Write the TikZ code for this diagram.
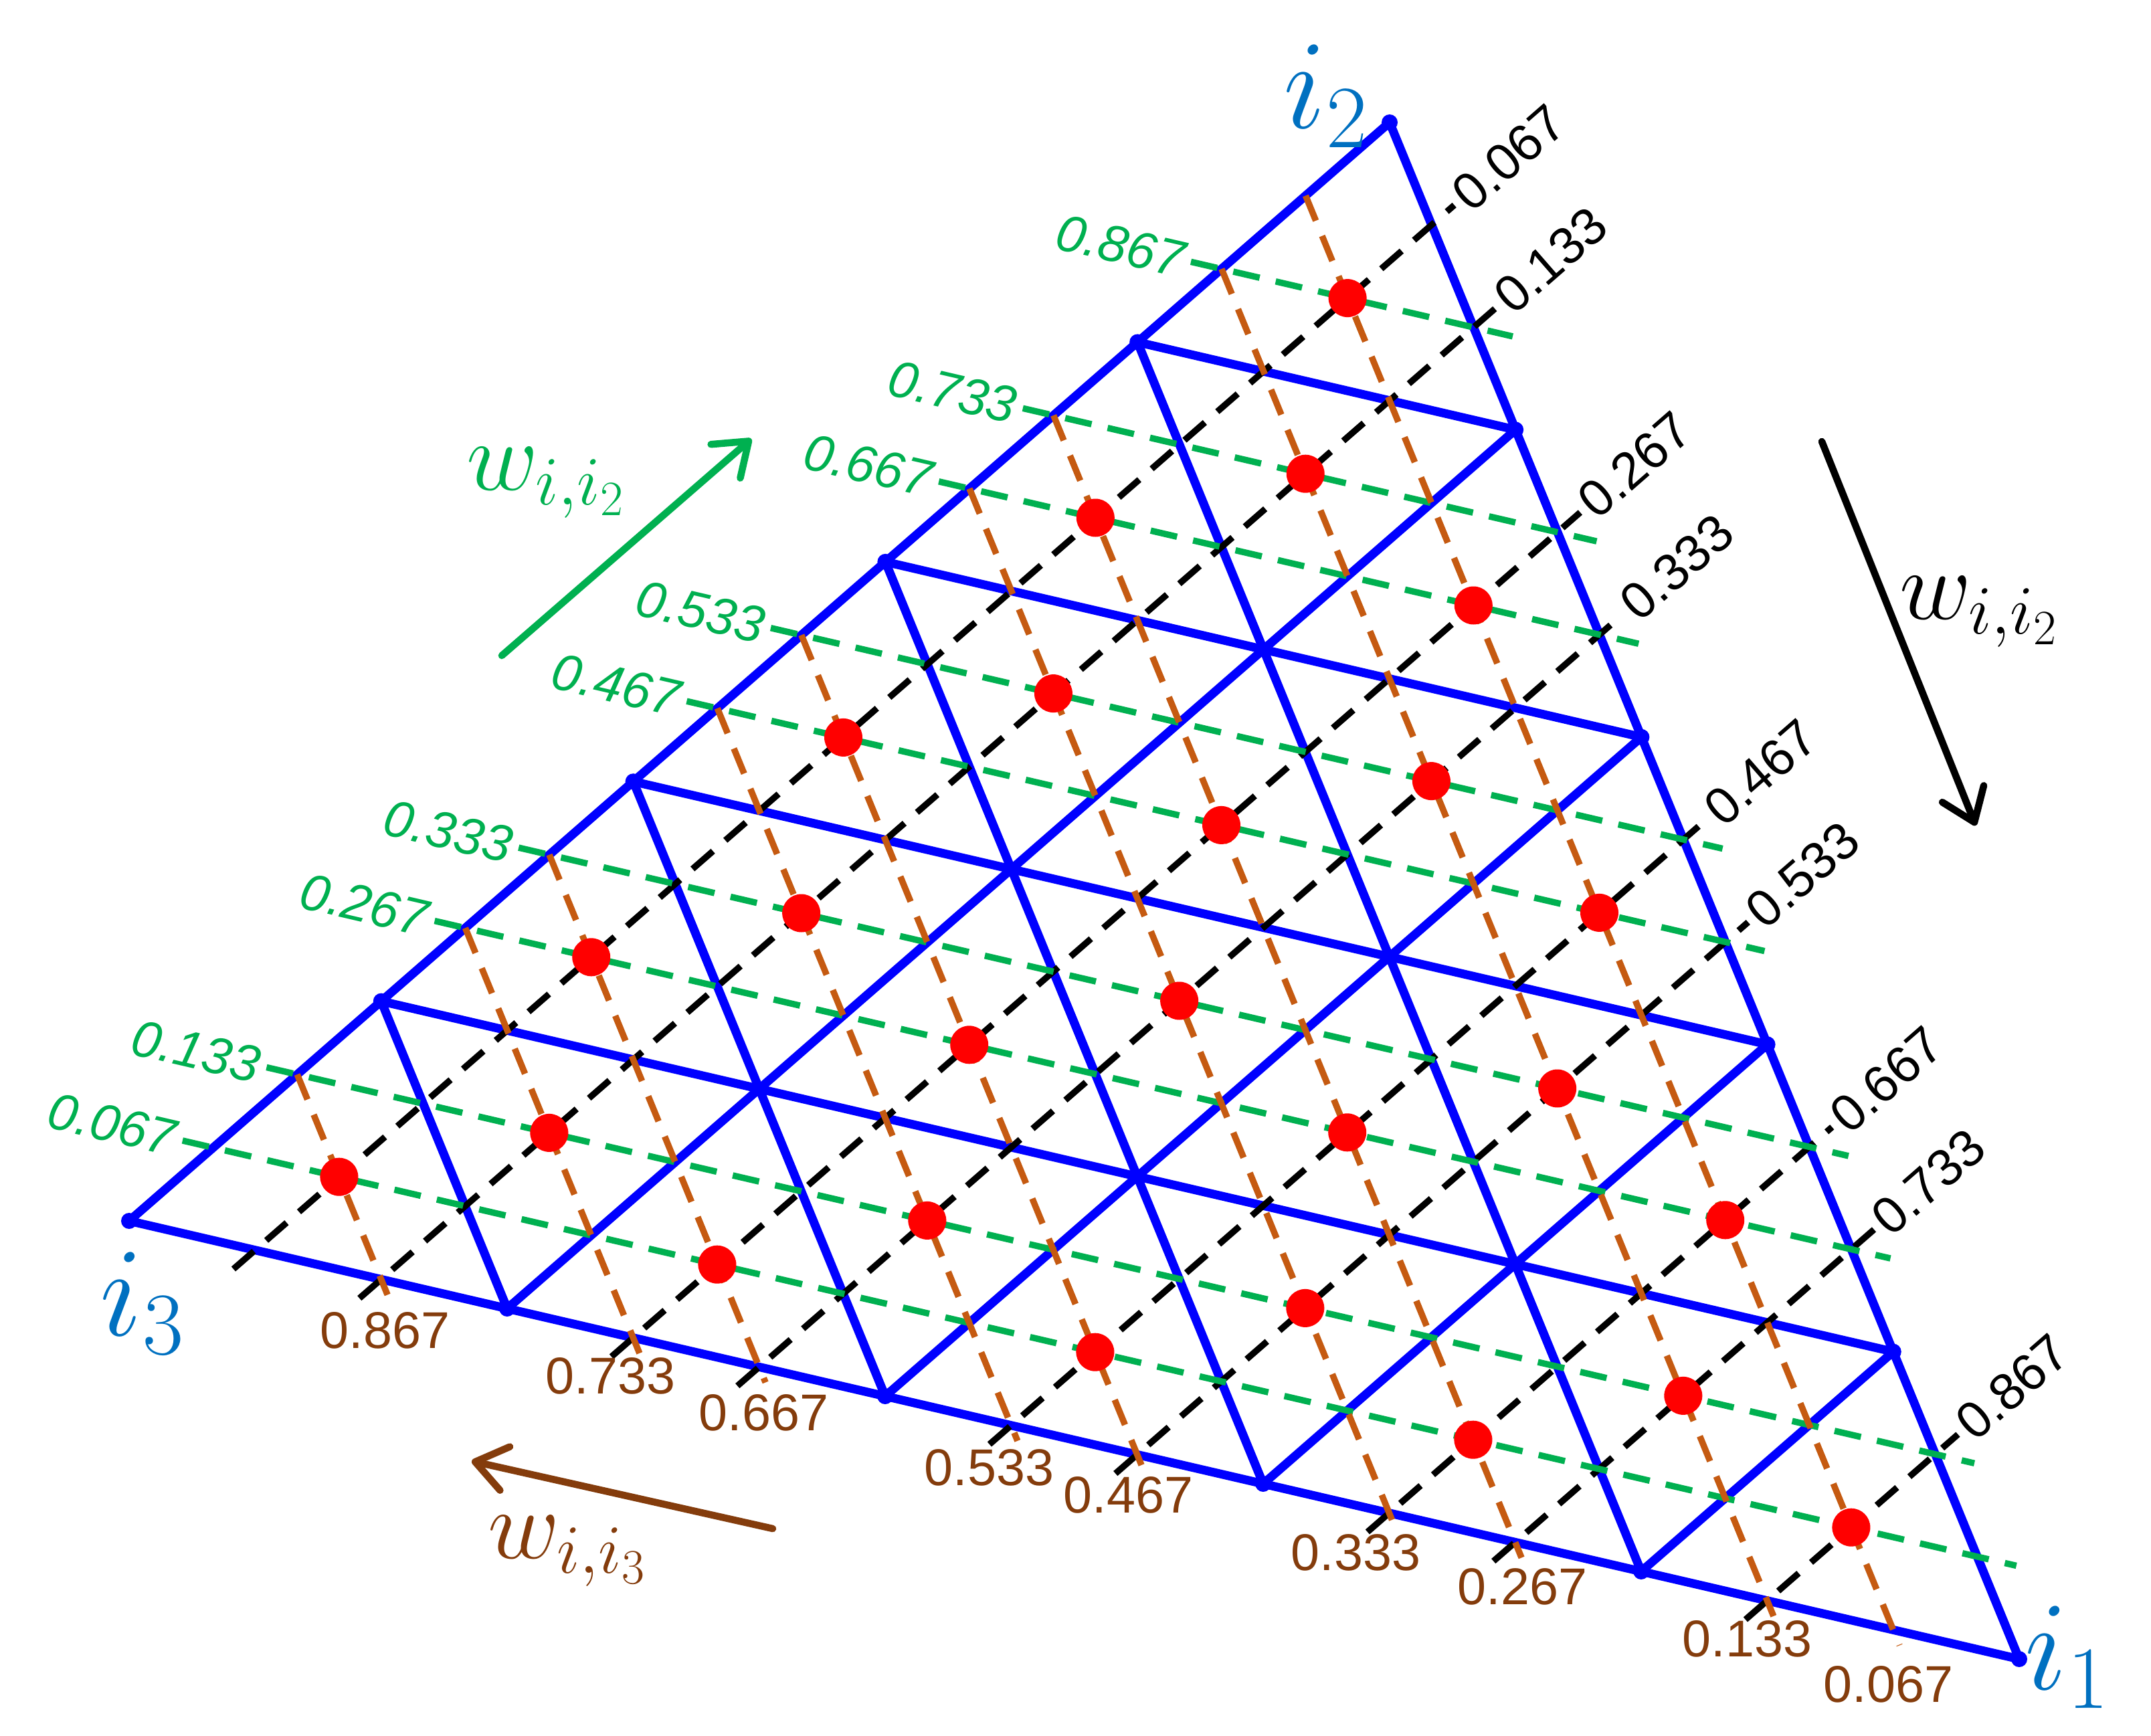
\RequirePackage{fix-cm}
\documentclass[tikz,border=0pt]{standalone}
\usepackage{fontspec}
\newfontfamily\numfont{Liberation Sans}
\usetikzlibrary{calc,arrows.meta}
\definecolor{triblue}{HTML}{0000FF}
\definecolor{labblue}{HTML}{0070C0}
\definecolor{mygreen}{HTML}{00B050}
\definecolor{dashbrown}{HTML}{C55A11}
\definecolor{labbrown}{HTML}{843C0C}
\definecolor{dotred}{HTML}{FF0000}
\begin{document}
\begin{tikzpicture}[
  gridline/.style={triblue, line width=3.7pt, line cap=round, line join=round},
  dashline/.style={line width=2.7pt, dash pattern=on 11.5pt off 7pt},
  blackdash/.style={dashline, black},
  greendash/.style={dashline, mygreen},
  browndash/.style={dashline, dashbrown},
  numlab/.style={font=\numfont\fontsize{22}{26}\selectfont, inner sep=3pt},
  blacklab/.style={numlab, black, anchor=west, rotate=41.07},
  greenlab/.style={numlab, mygreen, anchor=east, rotate=-13.05, font=\numfont\itshape\fontsize{22}{26}\selectfont},
  brownlab/.style={numlab, labbrown},
  reddot/.style={circle, fill=dotred, inner sep=0pt, minimum size=0.57cm},
  vdot/.style={circle, fill=triblue, inner sep=0pt, minimum size=0.24cm},
  vertexlab/.style={labblue, font=\fontsize{54}{60}\selectfont},
  wlab/.style={font=\fontsize{42}{50}\selectfont},
  warrow/.style={line width=3pt, line cap=round, -{Straight Barb[length=13pt, width=19pt, line cap=round, line join=round]}},
]
\useasboundingbox (0,0) rectangle (32.15,-25.94);

\coordinate (I1) at (30.18,-24.80);
\coordinate (I2) at (20.77,-1.83);
\coordinate (I3) at (1.93,-18.25);

% edge subdivision points
\foreach \k in {1,...,4}{
  \pgfmathsetmacro\p{\k/5}
  \pgfmathsetmacro\q{1-\k/5}
  \coordinate (R\k) at ($\p*(I1)+\q*(I2)$);
  \coordinate (L\k) at ($\p*(I2)+\q*(I3)$);
  \coordinate (B\k) at ($\p*(I3)+\q*(I1)$);
}

% blue grid
\draw[gridline] (I1) -- (I2) -- (I3) -- cycle;
\foreach \k in {1,...,4}{
  \pgfmathtruncatemacro\m{5-\k}
  \draw[gridline] (R\k) -- (B\m);
  \draw[gridline] (L\k) -- (R\m);
  \draw[gridline] (L\m) -- (B\k);
}
\foreach \n in {I1,I2,I3,R1,R2,R3,R4,L1,L2,L3,L4,B1,B2,B3,B4}{
  \node[vdot] (d\n) at (\n) {};
}

% black dashed lines (parallel to i3-i2)
\foreach \k/\t in {1/0.067,2/0.133,4/0.267,5/0.333,7/0.467,8/0.533,10/0.667,11/0.733,13/0.867}{
  \pgfmathsetmacro\p{\k/15}
  \pgfmathsetmacro\q{1-\k/15}
  \coordinate (kb\k) at ($\p*(I1)+\q*(I3)$);
  \coordinate (kc\k) at ($\p*(I1)+\q*(I2)$);
  \coordinate (ks\k) at ($(kb\k)!-0.43cm!(kc\k)$);
  \coordinate (ke\k) at ($(kc\k)!-0.45cm!(kb\k)$);
  \draw[blackdash] (ks\k) -- (ke\k);
  \node[blacklab] (blk\k) at (ke\k) {\t};
}

% green dashed lines (parallel to i3-i1)
\foreach \k/\t in {1/0.067,2/0.133,4/0.267,5/0.333,7/0.467,8/0.533,10/0.667,11/0.733,13/0.867}{
  \pgfmathsetmacro\p{\k/15}
  \pgfmathsetmacro\q{1-\k/15}
  \coordinate (gl\k) at ($\p*(I2)+\q*(I3)$);
  \coordinate (gr\k) at ($\p*(I2)+\q*(I1)$);
  \coordinate (gs\k) at ($(gl\k)!-0.47cm!(gr\k)$);
  \coordinate (ge\k) at ($(gr\k)!-0.6cm!(gl\k)$);
  \draw[greendash] (gs\k) -- (ge\k);
  \node[greenlab] (grn\k) at (gs\k) {\t};
}

% brown dashed lines (parallel to i1-i2)
\foreach \k/\t/\dx/\dy in {13/0.867/0.06/-0.77, 11/0.733/-0.34/-0.57, 10/0.667/0.07/-0.69, 8/0.533/-0.33/-0.63, 7/0.467/-0.13/-0.61, 5/0.333/-0.50/-0.59, 4/0.267/0.11/-0.67, 2/0.133/-0.30/-0.57, 1/0.067/-0.07/-0.82}{
  \pgfmathsetmacro\p{\k/15}
  \pgfmathsetmacro\q{1-\k/15}
  \coordinate (bt\k) at ($\p*(I3)+\q*(I2)$);
  \coordinate (bb\k) at ($\p*(I3)+\q*(I1)$);
  \coordinate (be\k) at ($(bb\k)!-0.25cm!(bt\k)$);
  \draw[browndash] (bt\k) -- (be\k);
  \node[brownlab] (brn\k) at ($(bb\k)+(\dx,\dy)$) {\t};
}

% red centroids
\foreach \i in {0,...,4}{
  \foreach \j in {0,...,4}{
    \pgfmathtruncatemacro\kk{4-\i-\j}
    \ifnum\kk>-1
      \pgfmathsetmacro\ca{(3*\i+1)/15}
      \pgfmathsetmacro\cb{(3*\j+1)/15}
      \pgfmathsetmacro\cc{(3*\kk+1)/15}
      \node[reddot] (ru\i\j) at ($\ca*(I1)+\cb*(I2)+\cc*(I3)$) {};
    \fi
    \pgfmathtruncatemacro\kk{3-\i-\j}
    \ifnum\kk>-1
      \pgfmathsetmacro\ca{(3*\i+2)/15}
      \pgfmathsetmacro\cb{(3*\j+2)/15}
      \pgfmathsetmacro\cc{(3*\kk+2)/15}
      \node[reddot] (rd\i\j) at ($\ca*(I1)+\cb*(I2)+\cc*(I3)$) {};
    \fi
  }
}

% vertex labels
\node[vertexlab] (li2) at (19.82,-1.44) {$i_2$};
\node[vertexlab] (li3) at (2.13,-19.48) {$i_3$};
\node[vertexlab] (li1) at (30.90,-24.77) {$i_1$};

% direction arrows
\coordinate (gA) at (7.50,-9.80);
\coordinate (gB) at (11.23,-6.56);
\draw[warrow, mygreen] (gA) -- (gB);
\node[wlab, mygreen] (wg) at (8.16,-7.22) {$w_{i,i_2}$};

\coordinate (kA) at (27.23,-6.60);
\coordinate (kB) at (29.53,-12.34);
\draw[warrow, black] (kA) -- (kB);
\node[wlab, black] (wk) at (29.58,-9.15) {$w_{i,i_2}$};

\coordinate (bA) at (11.55,-22.85);
\coordinate (bB) at (7.05,-21.84);
\draw[warrow, labbrown] (bA) -- (bB);
\node[wlab, labbrown] (wb) at (8.48,-23.19) {$w_{i,i_3}$};
\end{tikzpicture}
\end{document}
